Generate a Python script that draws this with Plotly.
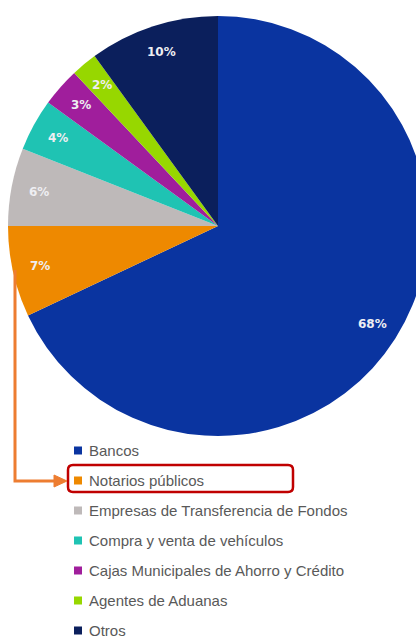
import math
import plotly.graph_objects as go

categories = ["Bancos", "Notarios públicos", "Empresas de Transferencia de Fondos",
              "Compra y venta de vehículos", "Cajas Municipales de Ahorro y Crédito",
              "Agentes de Aduanas", "Otros"]
values = [68, 7, 6, 4, 3, 2, 10]
labels_txt = ["68%", "7%", "6%", "4%", "3%", "2%", "10%"]
colors = ["#0A34A0", "#EE8900", "#BEB9B9", "#1FC3B3", "#A01E9C", "#97D700", "#0B1F5C"]

W, H = 436, 639
CX, CY, R = 218, 226, 210

def px(x):
    return x / W

def py(y):
    return 1 - y / H

fig = go.Figure()
fig.add_trace(go.Pie(
    labels=categories, values=values, sort=False, direction="clockwise", rotation=0,
    marker=dict(colors=colors, line=dict(width=0)),
    textinfo="none", hoverinfo="skip", showlegend=False,
    domain=dict(x=[px(CX - R), px(CX + R)], y=[py(CY + R), py(CY - R)]),
))

annotations = []
shapes = []
total = sum(values)
cum = 0
for v, t in zip(values, labels_txt):
    mid = (cum + v / 2) / total * 2 * math.pi
    cum += v
    rr = 0.87 * R
    x = CX + rr * math.sin(mid)
    y = CY - rr * math.cos(mid)
    annotations.append(dict(x=px(x), y=py(y), xref="paper", yref="paper", text=f"<b>{t}</b>",
                            showarrow=False, xanchor="center", yanchor="middle",
                            font=dict(family="DejaVu Sans", size=12, color="#EEEEF2"),
                            ))

# legend
for i, (c, col) in enumerate(zip(categories, colors)):
    yc = 450.5 + 30 * i
    shapes.append(dict(type="rect", xref="paper", yref="paper",
                       x0=px(74), x1=px(82), y0=py(yc + 4), y1=py(yc - 4),
                       fillcolor=col, line=dict(width=0)))
    annotations.append(dict(x=px(87), y=py(yc), xref="paper", yref="paper", text=c,
                            showarrow=False, xanchor="left", yanchor="middle",
                            font=dict(family="Liberation Sans", size=15, color="#595959")))

# highlight box
x0, x1, y0, y1, r = 68, 293, 465, 492, 5
path = (f"M {px(x0+r)},{py(y0)} L {px(x1-r)},{py(y0)} Q {px(x1)},{py(y0)} {px(x1)},{py(y0+r)} "
        f"L {px(x1)},{py(y1-r)} Q {px(x1)},{py(y1)} {px(x1-r)},{py(y1)} "
        f"L {px(x0+r)},{py(y1)} Q {px(x0)},{py(y1)} {px(x0)},{py(y1-r)} "
        f"L {px(x0)},{py(y0+r)} Q {px(x0)},{py(y0)} {px(x0+r)},{py(y0)} Z")
shapes.append(dict(type="path", xref="paper", yref="paper", path=path,
                   line=dict(color="#C00000", width=2.5)))

# orange arrow
shapes.append(dict(type="path", xref="paper", yref="paper",
                   path=f"M {px(15)},{py(270)} L {px(15)},{py(481)} L {px(56)},{py(481)}",
                   line=dict(color="#ED7D31", width=3)))
shapes.append(dict(type="path", xref="paper", yref="paper",
                   path=f"M {px(54)},{py(475)} L {px(67)},{py(481)} L {px(54)},{py(487)} Z",
                   fillcolor="#ED7D31", line=dict(color="#ED7D31", width=1)))

fig.update_layout(width=W, height=H, margin=dict(l=0, r=0, t=0, b=0),
                  paper_bgcolor="white", plot_bgcolor="white",
                  annotations=annotations, shapes=shapes, showlegend=False)

fig.write_html("out.html", config={"displayModeBar": False},
               post_script="document.body.style.margin='0';document.body.style.overflow='hidden';document.documentElement.style.overflow='hidden';")
